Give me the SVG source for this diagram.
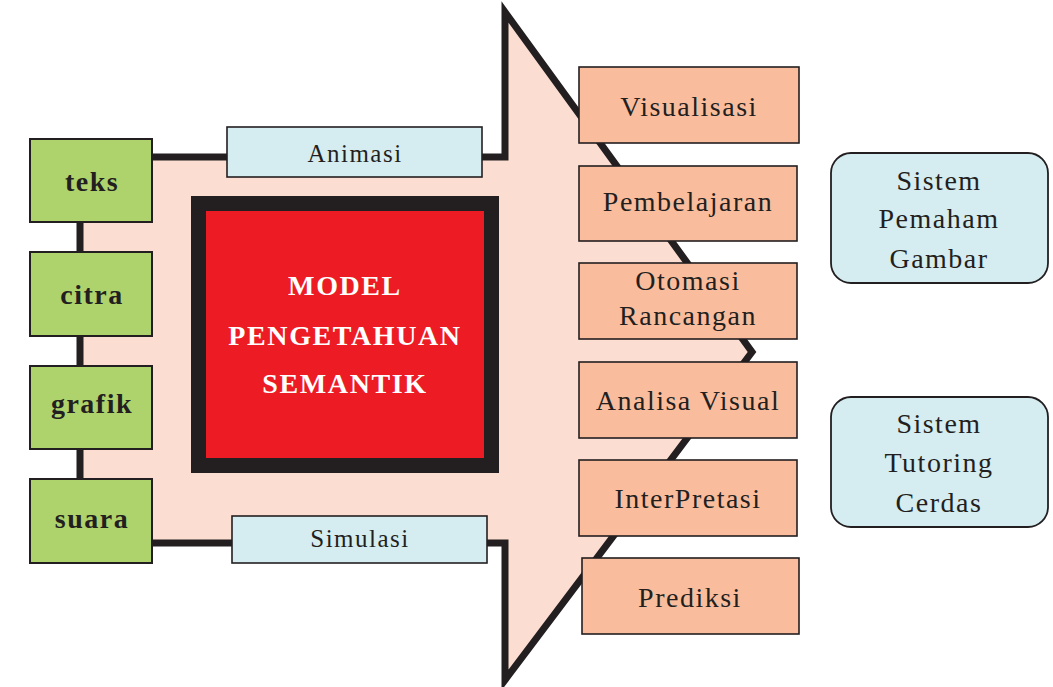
<svg xmlns="http://www.w3.org/2000/svg" width="1053" height="687" viewBox="0 0 1053 687">
  <style>
    .lbl { font-family: "Liberation Serif", "Times New Roman", serif; fill: #231F20; text-anchor: middle; }
    .src rect { fill: #AFD36C; stroke: #231F20; stroke-width: 2; }
    .src text { font-size: 28px; font-weight: bold; letter-spacing: 1.5px; }
    .mode rect { fill: #D5EDF0; stroke: #231F20; stroke-width: 1.6; }
    .mode text { font-size: 25px; letter-spacing: 1.5px; }
    .app rect { fill: #F9BD9E; stroke: #231F20; stroke-width: 1.6; }
    .app text { font-size: 28px; letter-spacing: 1.5px; }
    .sys rect { fill: #D5EDF0; stroke: #231F20; stroke-width: 1.8; }
    .sys text { font-size: 28px; letter-spacing: 1.5px; }
    .core text { font-family: "Liberation Serif", "Times New Roman", serif; fill: #FFFFFF; font-size: 28px; font-weight: bold; letter-spacing: 1.6px; text-anchor: middle; }
  </style>

  <rect x="0" y="0" width="1053" height="687" fill="#FFFFFF"/>

  <!-- big arrow body with its outline; the boxes sit on top of it -->
  <g id="connectors">
    <path d="M80,157 L505,157 L505,12 L752,352 L505,680 L505,543 L80,543 Z"
          fill="#FCDDD1" stroke="#231F20" stroke-width="7" stroke-linejoin="miter" stroke-miterlimit="10"/>
  </g>

  <!-- input media -->
  <g id="teks" class="src">
    <rect x="30" y="139" width="122" height="83"/>
    <text class="lbl" x="92" y="191">teks</text>
  </g>
  <g id="citra" class="src">
    <rect x="30" y="252" width="122" height="84"/>
    <text class="lbl" x="92" y="304">citra</text>
  </g>
  <g id="grafik" class="src">
    <rect x="30" y="366" width="122" height="83"/>
    <text class="lbl" x="92" y="413">grafik</text>
  </g>
  <g id="suara" class="src">
    <rect x="30" y="479" width="122" height="84"/>
    <text class="lbl" x="92" y="528">suara</text>
  </g>

  <!-- modes along the arrow -->
  <g id="animasi" class="mode">
    <rect x="227" y="127" width="255" height="50"/>
    <text class="lbl" x="355" y="162">Animasi</text>
  </g>
  <g id="simulasi" class="mode">
    <rect x="232" y="516" width="255" height="47"/>
    <text class="lbl" x="360" y="547">Simulasi</text>
  </g>

  <!-- central knowledge model -->
  <g id="model" class="core">
    <rect x="198.5" y="203.5" width="293" height="262" fill="#ED1C24" stroke="#231F20" stroke-width="15"/>
    <text x="345" y="295">MODEL</text>
    <text x="345" y="345">PENGETAHUAN</text>
    <text x="345" y="393">SEMANTIK</text>
  </g>

  <!-- applications -->
  <g id="visualisasi" class="app">
    <rect x="579" y="67" width="220" height="76"/>
    <text class="lbl" x="689" y="116">Visualisasi</text>
  </g>
  <g id="pembelajaran" class="app">
    <rect x="579" y="166" width="218" height="75"/>
    <text class="lbl" x="688" y="211">Pembelajaran</text>
  </g>
  <g id="otomasi" class="app">
    <rect x="579" y="263" width="218" height="76"/>
    <text class="lbl" x="688" y="290">Otomasi</text>
    <text class="lbl" x="688" y="325">Rancangan</text>
  </g>
  <g id="analisa" class="app">
    <rect x="579" y="362" width="218" height="76"/>
    <text class="lbl" x="688" y="410">Analisa Visual</text>
  </g>
  <g id="interpretasi" class="app">
    <rect x="579" y="460" width="218" height="76"/>
    <text class="lbl" x="688" y="508">InterPretasi</text>
  </g>
  <g id="prediksi" class="app">
    <rect x="582" y="558" width="217" height="76"/>
    <text class="lbl" x="690" y="607">Prediksi</text>
  </g>

  <!-- systems -->
  <g id="sistem-pemaham" class="sys">
    <rect x="831" y="153" width="217" height="130" rx="20" ry="20"/>
    <text class="lbl" x="939" y="190">Sistem</text>
    <text class="lbl" x="939" y="228">Pemaham</text>
    <text class="lbl" x="939" y="268">Gambar</text>
  </g>
  <g id="sistem-tutoring" class="sys">
    <rect x="831" y="397" width="217" height="130" rx="20" ry="20"/>
    <text class="lbl" x="939" y="433">Sistem</text>
    <text class="lbl" x="939" y="472">Tutoring</text>
    <text class="lbl" x="939" y="512">Cerdas</text>
  </g>
</svg>
